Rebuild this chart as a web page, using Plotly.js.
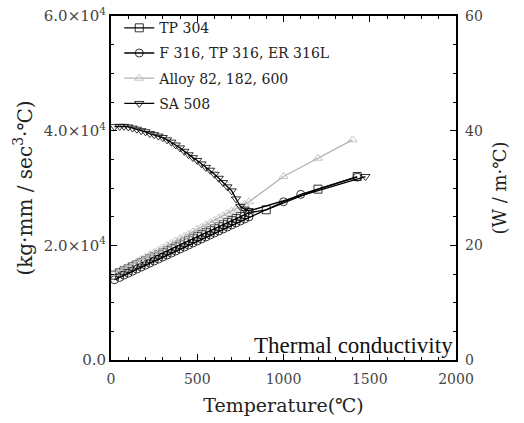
<!DOCTYPE html>
<html>
<head>
<meta charset="utf-8">
<script src="https://cdn.plot.ly/plotly-3.0.1.min.js"></script>
<style>html,body{margin:0;padding:0;background:#fff;}#chart{width:524px;height:423px;}</style>
</head>
<body>
<div id="chart"></div>
<script>
// Temperature (°C) for the dense (tabulated) part of each series
const tempDense = [20,50,75,100,125,150,175,200,225,250,275,300,325,350,375,400,425,450,475,500,525,550,575,600,625,650,675,700,725,750,775,800];

// Thermal conductivity, kg·mm/sec^3·°C
const tp304Dense = [14800,15200,15550,15900,16250,16600,16950,17300,17650,18000,18350,18700,19050,19400,19750,20100,20450,20800,21150,21500,21850,22200,22550,22900,23250,23600,23950,24300,24650,25000,25350,25700];
const tp304HighT = [900,1200,1427];
const tp304HighV = [26200,29800,32000];

const f316Dense = [14000,14400,14800,15150,15500,15850,16200,16550,16900,17250,17600,17950,18300,18650,19000,19350,19700,20050,20400,20750,21100,21450,21800,22150,22500,22850,23200,23550,23900,24250,24600,24950];
const f316HighT = [1000,1100,1427];
const f316HighV = [27600,28900,31900];

const alloyDense = [15100,15550,15950,16350,16750,17150,17550,17950,18350,18750,19150,19550,19950,20350,20750,21150,21550,21950,22350,22750,23150,23550,23950,24350,24750,25150,25550,25950,26350,26750,27150,27600];
const alloyHighT = [1000,1200,1400];
const alloyHighV = [32000,35200,38400];

const sa508Dense = [40700,40750,40750,40650,40450,40250,40000,39800,39500,39300,39050,38800,38400,38000,37500,37000,36400,35800,35300,34800,34200,33600,33100,32400,31700,30950,30200,29500,28100,26800,26300,26000];
const sa508HighT = [1475];
const sa508HighV = [32000];

const seriesNames = ["TP 304", "F 316, TP 316, ER 316L", "Alloy 82, 182, 600", "SA 508"];

const leftTickVals = [0, 20000, 40000, 60000];
const leftTickText = ["0.0", "2.0×10<sup>4</sup>", "4.0×10<sup>4</sup>", "6.0×10<sup>4</sup>"];
const rightTickVals = [0, 20, 40, 60];
const xTickVals = [0, 500, 1000, 1500, 2000];

const FONT = "'DejaVu Serif', 'Liberation Serif', serif";

function mk(name, dx, dy, hx, hy, sym, color, grp) {
  return {
    type: "scatter", mode: "lines+markers", name: name,
    x: dx.concat(hx), y: dy.concat(hy),
    line: {color: color, width: 1.3},
    marker: {symbol: sym, size: 8, color: color, line: {color: color, width: 0.8}},
    legendgroup: grp
  };
}

const traces = [
  mk(seriesNames[0], tempDense, tp304Dense, tp304HighT, tp304HighV, "square-open", "#000", "a"),
  mk(seriesNames[1], tempDense, f316Dense, f316HighT, f316HighV, "circle-open", "#000", "b"),
  mk(seriesNames[2], tempDense, alloyDense, alloyHighT, alloyHighV, "triangle-up-open", "#b4b4b4", "c"),
  mk(seriesNames[3], tempDense, sa508Dense, sa508HighT, sa508HighV, "triangle-down-open", "#000", "d"),
  {type: "scatter", x: [null], y: [null], yaxis: "y2", showlegend: false, hoverinfo: "skip"}
];

const layout = {
  width: 524, height: 423,
  margin: {l: 111, r: 68, t: 14, b: 63},
  paper_bgcolor: "#fff", plot_bgcolor: "#fff",
  font: {family: FONT, color: "#222", size: 14},
  showlegend: true,
  legend: {
    x: 0.024, y: 1.011, xanchor: "left", yanchor: "top",
    bgcolor: "rgba(0,0,0,0)", font: {family: FONT, size: 14, color: "#222"},
    traceorder: "grouped", tracegroupgap: 4
  },
  xaxis: {
    range: [0, 2000], tickvals: xTickVals, ticks: "inside", ticklen: 6, tickcolor: "#000",
    showline: true, linecolor: "#000", linewidth: 2, mirror: "ticks", showgrid: false, zeroline: false,
    minor: {dtick: 100, ticks: "inside", ticklen: 3, tickcolor: "#000", showgrid: false},
    tickfont: {family: FONT, size: 14, color: "#444"}, ticklabelstandoff: 5,
    title: {text: "Temperature(℃)", font: {family: FONT, size: 19, color: "#222"}, standoff: 13},
    automargin: false
  },
  yaxis: {
    range: [0, 60000], tickvals: leftTickVals, ticktext: leftTickText, ticks: "inside", ticklen: 6, tickcolor: "#000",
    showline: true, linecolor: "#000", linewidth: 2, mirror: "ticks", showgrid: false, zeroline: false,
    minor: {dtick: 5000, ticks: "inside", ticklen: 3, tickcolor: "#000", showgrid: false},
    tickfont: {family: FONT, size: 15, color: "#444"},
    title: {text: "(kg·mm / sec<sup>3</sup>·℃)", font: {family: FONT, size: 20, color: "#222"}, standoff: 6},
    automargin: false
  },
  yaxis2: {
    overlaying: "y", side: "right", range: [0, 60], tickvals: rightTickVals,
    ticks: "", showline: false, showgrid: false, zeroline: false,
    tickfont: {family: FONT, size: 14, color: "#444"}, ticklabelstandoff: 8,
    title: {text: "(W / m·℃)", font: {family: FONT, size: 18, color: "#222"}, standoff: 11},
    automargin: false
  },
  annotations: [{
    xref: "paper", yref: "paper", x: 1, y: 0, xanchor: "right", yanchor: "bottom",
    text: "Thermal conductivity", showarrow: false,
    font: {family: "'Liberation Serif', serif", size: 23, color: "#111"}, xshift: -1, yshift: 0
  }]
};

Plotly.newPlot("chart", traces, layout, {displayModeBar: false, staticPlot: true});
</script>
</body>
</html>
